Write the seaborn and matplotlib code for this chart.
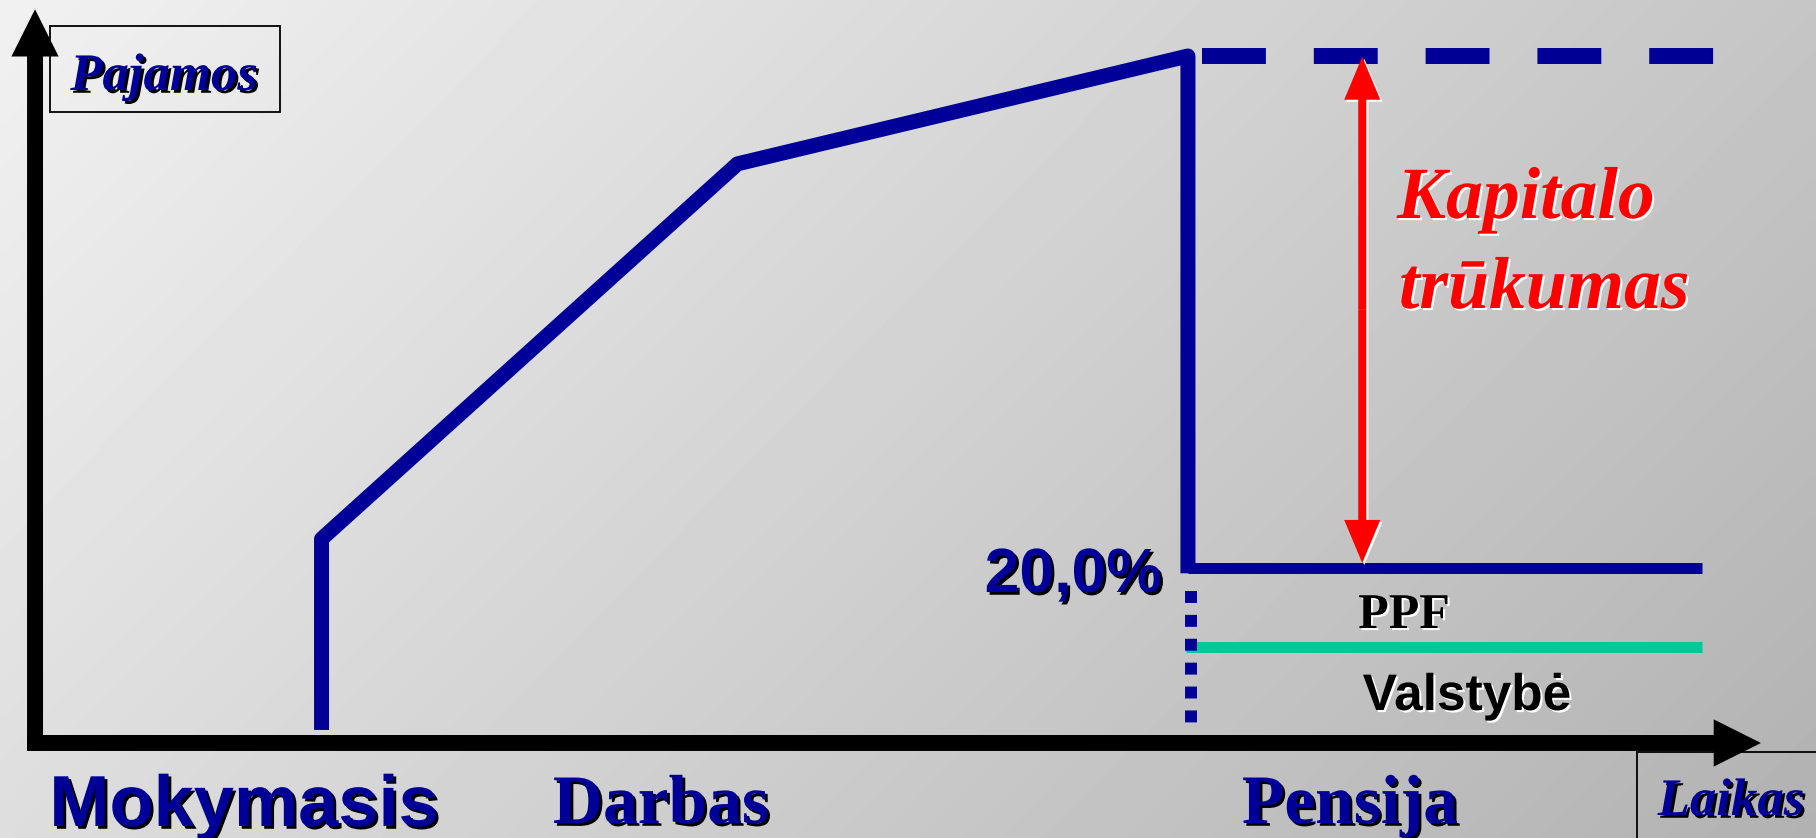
import numpy as np
import matplotlib.pyplot as plt
import matplotlib.patheffects as pe
from matplotlib.patches import FancyArrowPatch, Rectangle
import seaborn as sns

# life-cycle income sketch: x = life stage scale, y = income level (last salary = 100)
stage_x = [16.6, 16.6, 40.7, 66.8, 66.8]
income_y = [1.9, 29.7, 84.3, 100.0, 24.7]
pension_x = [66.8, 96.6]
pension_y = [25.5, 25.5]
state_x = [66.7, 96.6]
state_y = [13.9, 13.9]
salary_x = [67.6, 97.3]
salary_y = [100.0, 100.0]
retire_x = [67.0, 67.0]
retire_y = [22.1, 2.8]
gap_x = 76.9
gap_y = [26.2, 99.9]

stage_labels = ["Mokymasis", "Darbas", "Pensija"]
pension_share = "20,0%"

BLUE = "#000099"
TEAL = "#00c896"
W, H = 1816, 838

sns.set_style("white")
plt.rcParams["font.family"] = ["Liberation Sans", "DejaVu Sans"]

fig = plt.figure(figsize=(W / 100, H / 100), dpi=100)
ax = fig.add_axes([0, 0, 1, 1])
ax.set_xlim(-2.03, 103.19)
ax.set_ylim(-13.83, 108.15)
ax.axis("off")

# diagonal grey background
px, py = np.meshgrid(np.linspace(0, W, 400), np.linspace(0, H, 200))
grad = (241 - 0.024 * px - 0.0235 * py) / 255
ax.imshow(grad, cmap="gray", vmin=0, vmax=1, extent=[-2.03, 103.19, -13.83, 108.15],
          aspect="auto", interpolation="bilinear", zorder=0, origin="upper")

# axes arrows
for start, end in [((-0.46, 0), (100, 0)), ((0, -1.16), (0, 106.8))]:
    ax.add_patch(FancyArrowPatch(start, end, mutation_scale=1, lw=0, color="black",
                                 shrinkA=0, shrinkB=0,
                                 arrowstyle="simple,head_length=34,head_width=34,tail_width=11.5",
                                 zorder=3))

# income path
line_kw = dict(sort=False, estimator=None, ax=ax, solid_capstyle="butt", zorder=4)
sns.lineplot(x=stage_x, y=income_y, color=BLUE, lw=10.8, solid_joinstyle="round", **line_kw)
sns.lineplot(x=pension_x, y=pension_y, color=BLUE, lw=7.9, **line_kw)
sns.lineplot(x=state_x, y=state_y, color=TEAL, lw=7.9, **line_kw)
ax.plot(salary_x, salary_y, color=BLUE, lw=11.5, dashes=(4, 3), zorder=4)
ax.plot(retire_x, retire_y, color=BLUE, lw=8.6, dashes=(1, 1), zorder=4)

# capital gap arrow: white edge pass first, then red
mid = (gap_y[0] + gap_y[1]) / 2
arrow_style = "simple,head_length=31,head_width=26,tail_width=5.8"
for effects, z in [([pe.SimplePatchShadow(offset=(1.5, -1.5), shadow_rgbFace="white", alpha=1)], 5),
                   (None, 6)]:
    for tip in gap_y:
        ax.add_patch(FancyArrowPatch((gap_x, mid), (gap_x, tip), mutation_scale=1, lw=0,
                                     shrinkA=0, shrinkB=0, color="red", arrowstyle=arrow_style,
                                     path_effects=effects, zorder=z))

# label boxes
for (x0, y0, x1, y1) in [(50, 26, 280, 112), (1637, 752, 1830, 850)]:
    fig.patches.append(Rectangle((x0 / W, 1 - y1 / H), (x1 - x0) / W, (y1 - y0) / H,
                                 transform=fig.transFigure, fill=False, ec="black", lw=1.3))

dark = [pe.withSimplePatchShadow(offset=(2, -2), shadow_rgbFace="black", alpha=1)]
light = [pe.withSimplePatchShadow(offset=(1.5, -1.5), shadow_rgbFace="white", alpha=1)]
serif = ["Liberation Serif", "DejaVu Serif"]
sans = ["Liberation Sans", "DejaVu Sans"]


def label(x, y, s, **kw):
    fig.text(x / W, 1 - y / H, s, va="baseline", **kw)


label(164, 90, "Pajamos", family=serif, weight="bold", style="italic", size=38,
      color=BLUE, ha="center", path_effects=dark)
label(1731, 815, "Laikas", family=serif, weight="bold", style="italic", size=38,
      color=BLUE, ha="center", path_effects=dark)
label(244, 826, stage_labels[0], family=sans, weight="bold", size=52, color=BLUE,
      ha="center", path_effects=dark)
label(661, 823, stage_labels[1], family=serif, weight="bold", size=50, color=BLUE,
      ha="center", path_effects=dark)
label(1350, 823, stage_labels[2], family=serif, weight="bold", size=50, color=BLUE,
      ha="center", path_effects=dark)
label(1162, 592, pension_share, family=sans, weight="bold", size=45, color=BLUE,
      ha="right", path_effects=dark)
label(1397, 218, "Kapitalo", family=serif, weight="bold", style="italic", size=53,
      color="red", ha="left", path_effects=light)
label(1399, 308, "trūkumas", family=serif, weight="bold", style="italic", size=53,
      color="red", ha="left", path_effects=light)
label(1404, 628, "PPF", family=serif, weight="bold", size=36, color="black",
      ha="center", path_effects=light)
label(1467, 710, "Valstybė", family=sans, weight="bold", size=37, color="black",
      ha="center", path_effects=light)

fig.savefig("out.png", dpi=100)
